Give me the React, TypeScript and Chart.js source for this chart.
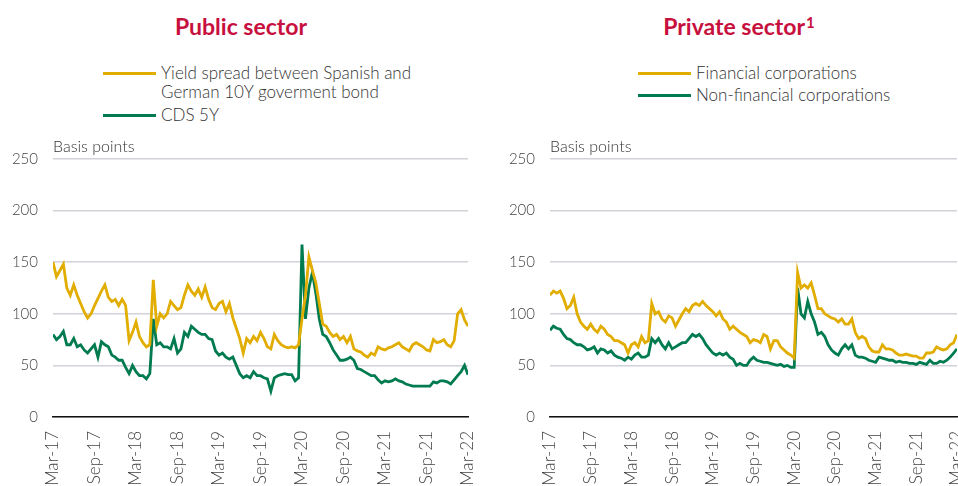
import React, { useEffect, useRef } from "react";
import { Chart, registerables } from "chart.js";

Chart.register(...registerables);

// Half-monthly observations, Mar-17 (index 0) to Mar-22 (index 120)
const tickLabels = ["Mar-17", "Sep-17", "Mar-18", "Sep-18", "Mar-19", "Sep-19", "Mar-20", "Sep-20", "Mar-21", "Sep-21", "Mar-22"];

const publicYieldSpread = [
  150, 136, 142, 148, 125, 118, 128, 118, 110, 102, 96, 100, 108, 115, 122, 128, 116, 112, 114, 108,
  114, 108, 74, 82, 92, 78, 72, 68, 70, 133, 88, 100, 96, 100, 112, 108, 104, 106, 118, 128,
  122, 118, 124, 116, 126, 114, 106, 104, 110, 112, 102, 110, 96, 86, 76, 62, 76, 72, 78, 74,
  82, 76, 68, 66, 80, 74, 70, 68, 67, 68, 67, 70, 95, 118, 155, 142, 130, 110, 90, 88,
  82, 78, 80, 75, 78, 72, 78, 66, 64, 63, 60, 58, 62, 60, 68, 66, 65, 67, 68, 70,
  72, 68, 66, 64, 70, 72, 70, 68, 65, 64, 75, 72, 73, 75, 70, 68, 74, 100, 104, 94,
  88,
];

const publicCDS = [
  80, 75, 78, 83, 70, 70, 76, 68, 70, 65, 62, 66, 70, 58, 73, 70, 68, 60, 58, 55,
  55, 48, 42, 50, 44, 40, 40, 37, 42, 95, 70, 72, 68, 68, 66, 76, 62, 66, 82, 78,
  88, 85, 82, 80, 80, 76, 75, 64, 60, 62, 58, 56, 58, 50, 42, 38, 40, 38, 44, 40,
  40, 38, 37, 25, 38, 40, 41, 42, 41, 41, 35, 38, 167, 95, 125, 140, 120, 95, 80, 78,
  72, 65, 60, 55, 55, 56, 58, 55, 47, 46, 44, 42, 40, 40, 36, 33, 35, 34, 35, 37,
  35, 34, 32, 31, 30, 30, 30, 30, 30, 30, 34, 33, 35, 35, 34, 32, 36, 40, 44, 50,
  41,
];

const privateFinancial = [
  118, 122, 120, 122, 115, 105, 108, 116, 100, 92, 88, 85, 90, 85, 82, 88, 85, 80, 78, 74,
  74, 72, 70, 62, 70, 72, 68, 78, 72, 74, 110, 100, 102, 95, 92, 98, 96, 88, 94, 100,
  105, 102, 108, 110, 108, 112, 108, 105, 102, 98, 102, 95, 92, 85, 88, 85, 82, 80, 78, 72,
  75, 74, 72, 80, 78, 66, 74, 74, 68, 65, 62, 60, 57, 140, 125, 128, 125, 130, 118, 105,
  105, 100, 98, 96, 95, 92, 95, 90, 90, 95, 82, 76, 78, 76, 68, 64, 63, 63, 70, 66,
  66, 65, 62, 60, 60, 61, 60, 59, 59, 57, 57, 62, 62, 63, 68, 66, 65, 66, 70, 72,
  80,
];

const privateNonFinancial = [
  84, 88, 86, 85, 80, 76, 75, 72, 70, 70, 68, 65, 66, 68, 62, 66, 65, 62, 64, 60,
  58, 57, 55, 58, 56, 60, 62, 58, 58, 60, 76, 72, 76, 70, 66, 72, 66, 68, 70, 72,
  72, 76, 80, 78, 80, 76, 70, 66, 62, 60, 62, 60, 62, 58, 56, 50, 52, 50, 50, 55,
  58, 55, 54, 53, 53, 52, 51, 50, 51, 49, 50, 48, 48, 125, 100, 96, 112, 100, 92, 80,
  82, 78, 70, 65, 62, 60, 66, 70, 66, 70, 60, 58, 58, 57, 55, 54, 53, 58, 57, 56,
  55, 55, 53, 54, 53, 53, 52, 52, 51, 53, 52, 51, 55, 52, 52, 54, 53, 55, 58, 62,
  66,
];

const GOLD = "#E1AD01";
const GREEN = "#007B4F";
const RED = "#C8103E";
const FONT = "Lato, 'Open Sans', sans-serif";

const toPoints = (arr: number[]) => arr.map((y, i) => ({ x: i, y }));

function makeChart(
  canvas: HTMLCanvasElement,
  series: { label: string; data: number[]; color: string }[],
  yAxisWidth: number,
  padRight: number
) {
  const basisPoints = {
    id: "basisPoints",
    afterDraw(chart: any) {
      const { ctx, chartArea } = chart;
      ctx.save();
      ctx.font = `300 16px ${FONT}`;
      ctx.fillStyle = "#333";
      ctx.textAlign = "left";
      ctx.textBaseline = "alphabetic";
      ctx.fillText("Basis points", chartArea.left, chartArea.top - 7);
      ctx.restore();
    },
  };
  return new Chart(canvas, {
    type: "line",
    data: {
      datasets: series.map((s) => ({
        label: s.label,
        data: toPoints(s.data),
        borderColor: s.color,
        backgroundColor: s.color,
        borderWidth: 2.8,
        pointRadius: 0,
        tension: 0,
        fill: false,
      })),
    },
    options: {
      responsive: false,
      animation: false,
      layout: { padding: { top: 159, left: 0, right: padRight, bottom: 0 } },
      plugins: { legend: { display: false }, title: { display: false }, tooltip: { enabled: false } },
      scales: {
        x: {
          type: "linear",
          min: 0,
          max: 120,
          afterFit: (s: any) => {
            s.height = 83;
            s.paddingLeft = 0;
            s.paddingRight = 0;
          },
          afterBuildTicks: (s: any) => {
            s.ticks = tickLabels.map((_, k) => ({ value: k * 12 }));
          },
          ticks: {
            autoSkip: false,
            minRotation: 90,
            maxRotation: 90,
            padding: 14,
            color: "#444",
            font: { family: FONT, size: 17, weight: "300" },
            callback: (v: any) => tickLabels[Math.round(Number(v) / 12)],
          },
          grid: { display: false, drawTicks: false },
          border: { display: true, color: "#111", width: 1.5 },
        },
        y: {
          min: 0,
          max: 250,
          afterFit: (s: any) => {
            s.width = yAxisWidth;
          },
          ticks: {
            stepSize: 50,
            padding: 15,
            color: "#444",
            font: { family: FONT, size: 15, weight: "300" },
          },
          grid: { color: "#D2D2DA", lineWidth: 1.5, drawTicks: false },
          border: { display: false },
        },
      },
    },
    plugins: [basisPoints],
  } as any);
}

function LegendItem({ x, y, color, lines }: { x: number; y: number; color: string; lines: string[] }) {
  return (
    <>
      <div style={{ position: "absolute", left: x, top: y - 1.5, width: 53, height: 3, background: color }} />
      <div
        style={{
          position: "absolute",
          left: x + 58,
          top: y - 10,
          fontFamily: FONT,
          fontWeight: 300,
          fontSize: 17,
          lineHeight: "19px",
          color: "#333",
          whiteSpace: "nowrap",
        }}
      >
        {lines.map((l, i) => (
          <div key={i}>{l}</div>
        ))}
      </div>
    </>
  );
}

export default function App() {
  const leftRef = useRef<HTMLCanvasElement>(null);
  const rightRef = useRef<HTMLCanvasElement>(null);

  useEffect(() => {
    const a = makeChart(
      leftRef.current!,
      [
        { label: "Yield spread between Spanish and German 10Y goverment bond", data: publicYieldSpread, color: GOLD },
        { label: "CDS 5Y", data: publicCDS, color: GREEN },
      ],
      53,
      12
    );
    const b = makeChart(
      rightRef.current!,
      [
        { label: "Financial corporations", data: privateFinancial, color: GOLD },
        { label: "Non-financial corporations", data: privateNonFinancial, color: GREEN },
      ],
      70,
      13
    );
    return () => {
      a.destroy();
      b.destroy();
    };
  }, []);

  const titleStyle: React.CSSProperties = {
    position: "absolute",
    top: 12,
    fontFamily: FONT,
    fontWeight: 700,
    fontSize: 23,
    lineHeight: "28px",
    color: RED,
    whiteSpace: "nowrap",
    transform: "translateX(-50%)",
  };

  return (
    <div style={{ position: "fixed", left: 0, top: 0, width: 958, height: 486, overflow: "hidden", background: "#fff" }}>
      <div style={{ ...titleStyle, left: 241 }}>Public sector</div>
      <div style={{ ...titleStyle, left: 739 }}>
        Private sector
        <sup style={{ fontSize: 15, fontWeight: 700, verticalAlign: "top", position: "relative", top: -4, marginLeft: 1 }}>1</sup>
      </div>
      <LegendItem x={103} y={73} color={GOLD} lines={["Yield spread between Spanish and", "German 10Y goverment bond"]} />
      <LegendItem x={103} y={115} color={GREEN} lines={["CDS 5Y"]} />
      <LegendItem x={638} y={73} color={GOLD} lines={["Financial corporations"]} />
      <LegendItem x={638} y={95} color={GREEN} lines={["Non-financial corporations"]} />
      <canvas ref={leftRef} width={480} height={500} style={{ position: "absolute", left: 0, top: 0 }} />
      <canvas ref={rightRef} width={490} height={500} style={{ position: "absolute", left: 480, top: 0 }} />
    </div>
  );
}
